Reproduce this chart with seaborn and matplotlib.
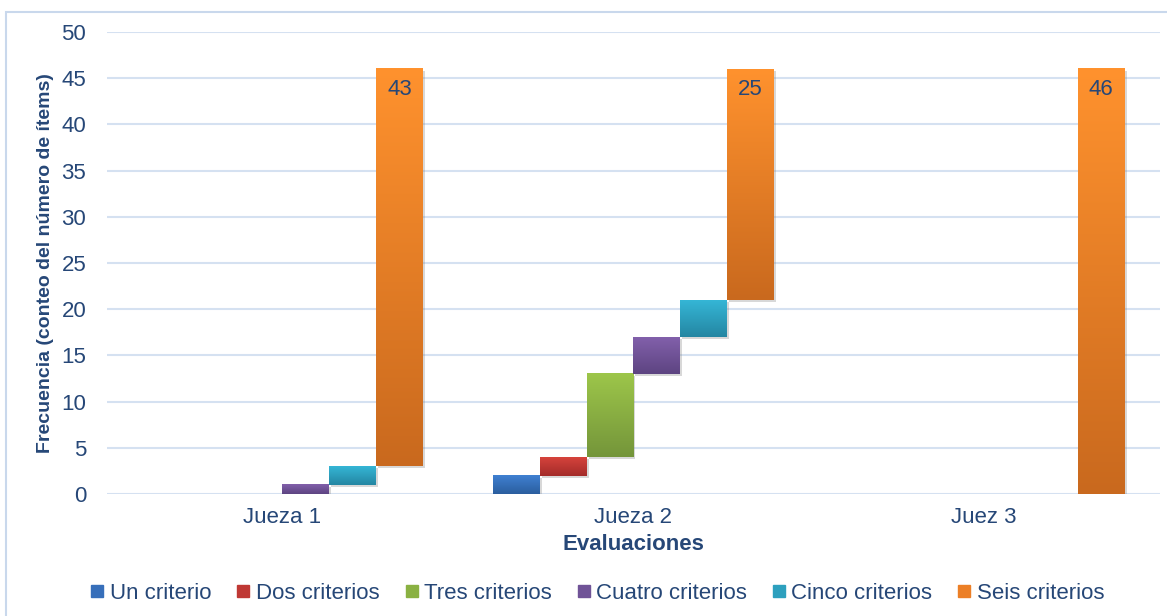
import numpy as np
import pandas as pd
import matplotlib
matplotlib.use("Agg")
import matplotlib.pyplot as plt
import seaborn as sns
from matplotlib.colors import LinearSegmentedColormap
from matplotlib.lines import Line2D
from matplotlib.patches import Rectangle
import matplotlib.patheffects as pe

# ---- data ----
categories = ["Jueza 1", "Jueza 2", "Juez 3"]
series = ["Un criterio", "Dos criterios", "Tres criterios",
          "Cuatro criterios", "Cinco criterios", "Seis criterios"]
un_criterio = [0, 2, 0]
dos_criterios = [0, 2, 0]
tres_criterios = [0, 9, 0]
cuatro_criterios = [1, 4, 0]
cinco_criterios = [2, 4, 0]
seis_criterios = [43, 25, 46]
labeled_series = "Seis criterios"
yticks = [0, 5, 10, 15, 20, 25, 30, 35, 40, 45, 50]

# ---- styles ----
top_colors = ["#3F80D2", "#D6433C", "#9DC64A", "#8260AB", "#35B6D6", "#FF922E"]
bottom_colors = ["#2B5E9E", "#A32B29", "#74953A", "#5D4481", "#2486A2", "#C9691E"]
mid_colors = ["#376FBA", "#BF3834", "#8AB142", "#705397", "#2DA0BE", "#EC7F26"]
text_color = "#264777"
grid_color = "#D5E1F1"

values = np.array([un_criterio, dos_criterios, tres_criterios,
                   cuatro_criterios, cinco_criterios, seis_criterios], dtype=float)
bottoms = np.cumsum(values, axis=0) - values

df = pd.DataFrame({
    "Evaluación": np.tile(categories, len(series)),
    "Criterio": np.repeat(series, len(categories)),
    "Frecuencia": values.flatten(),
})

sns.set_theme(style="white")
plt.rcParams["font.family"] = ["Liberation Sans", "DejaVu Sans"]

fig = plt.figure(figsize=(11.67, 6.16), dpi=100)
ax = fig.add_axes([0.0917, 0.198, 0.902, 0.750])

sns.barplot(data=df, x="Evaluación", y="Frecuencia", hue="Criterio",
            order=categories, hue_order=series, palette=mid_colors,
            width=0.8, dodge=True, errorbar=None, legend=False,
            saturation=1, ax=ax, linewidth=0)

for i, cont in enumerate(ax.containers):
    cmap = LinearSegmentedColormap.from_list(f"g{i}", [bottom_colors[i], top_colors[i]])
    for j, patch in enumerate(cont):
        patch.set_y(bottoms[i][j])
        h = patch.get_height()
        if h <= 0:
            patch.set_visible(False)
            continue
        patch.set_zorder(2)
        patch.set_path_effects([pe.SimplePatchShadow(offset=(1.5, -1.5), shadow_rgbFace="#808080", alpha=0.3),
                                pe.Normal()])
        x0, w, y0 = patch.get_x(), patch.get_width(), patch.get_y()
        grad = np.linspace(0, 1, 256).reshape(-1, 1)
        ax.imshow(grad, extent=[x0, x0 + w, y0, y0 + h], origin="lower",
                  cmap=cmap, aspect="auto", zorder=2.1, interpolation="bilinear")
        if series[i] == labeled_series:
            ax.text(x0 + w / 2, y0 + h - 1.1, f"{int(values[i][j])}", ha="center", va="top",
                    fontsize=16, color=text_color, zorder=3)

ax.set_xlim(-0.5, len(categories) - 0.5)
ax.set_ylim(0, 50)
ax.set_yticks(yticks)
ax.yaxis.grid(True, color=grid_color, linewidth=1.5)
ax.set_axisbelow(True)
for s in ax.spines.values():
    s.set_visible(False)
ax.tick_params(axis="both", length=0, labelsize=16, labelcolor=text_color)
ax.tick_params(axis="y", pad=15)
ax.tick_params(axis="x", pad=9)

ax.set_xlabel("Evaluaciones", fontsize=16, fontweight="bold", color=text_color, labelpad=5)
ax.set_ylabel("Frecuencia (conteo del número de ítems)", fontsize=14, fontweight="bold", color=text_color)
ax.yaxis.set_label_coords(-0.05, 0.5)

handles = [Line2D([0], [0], marker="s", linestyle="none", markersize=8.5,
                  markerfacecolor=mid_colors[i], markeredgecolor=mid_colors[i])
           for i in range(len(series))]
leg = fig.legend(handles, series, loc="center", bbox_to_anchor=(0.512, 0.037), ncol=6,
                 frameon=False, fontsize=16, handlelength=0.6, handletextpad=0.25,
                 columnspacing=1.15)
for t in leg.get_texts():
    t.set_color(text_color)

fig.patches.append(Rectangle((6 / 1167, -0.05), 1.2, 1 - 12 / 616 + 0.05,
                             transform=fig.transFigure, fill=False,
                             edgecolor="#C9D8EC", linewidth=1.5, zorder=0))

fig.savefig("out.png", dpi=100)
